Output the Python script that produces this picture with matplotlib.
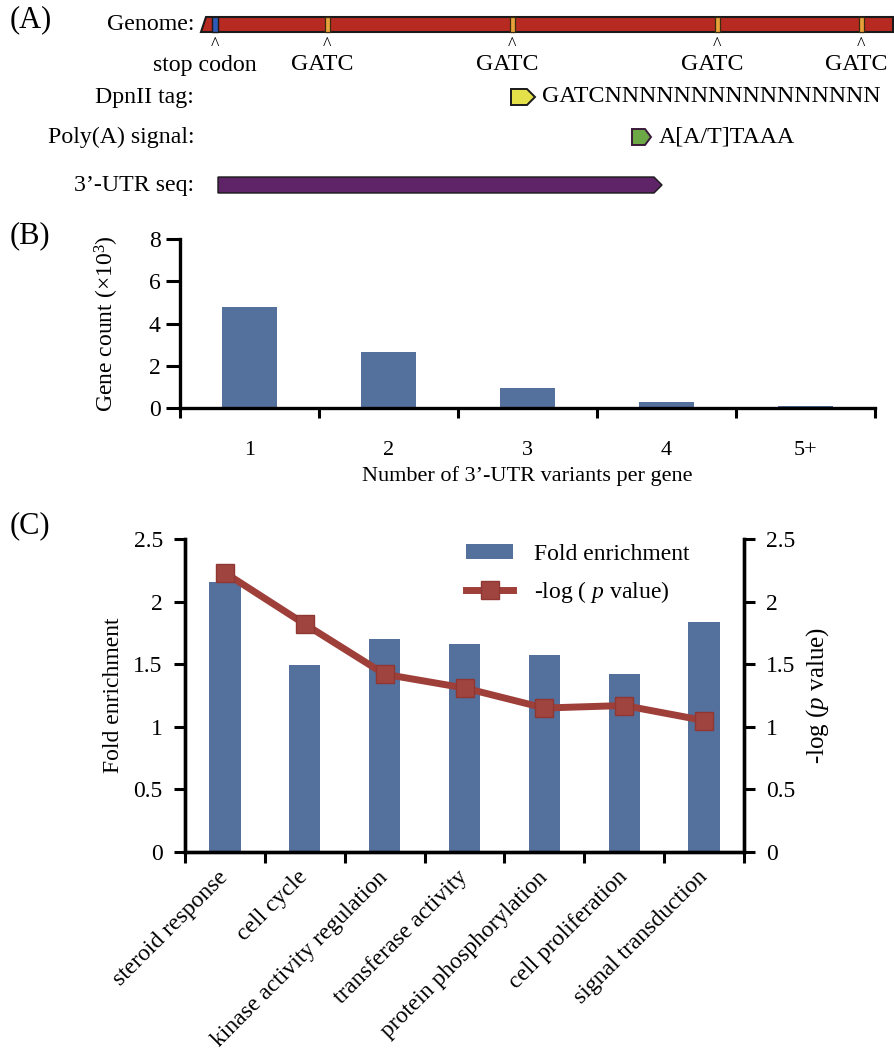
import matplotlib
matplotlib.use("Agg")
import matplotlib.pyplot as plt
from matplotlib.patches import Polygon, Patch
from matplotlib.lines import Line2D
from matplotlib.ticker import FixedLocator, FuncFormatter

plt.rcParams['font.family'] = ['Liberation Serif', 'DejaVu Serif']
plt.rcParams['mathtext.fontset'] = 'custom'
plt.rcParams['mathtext.rm'] = 'Liberation Serif'
plt.rcParams['mathtext.it'] = 'Liberation Serif:italic'

# ---------------- data ----------------
variants = ['1', '2', '3', '4', '5+']
gene_counts = [4.77, 2.65, 0.93, 0.27, 0.09]   # x10^3

go_terms = ['steroid response', 'cell cycle', 'kinase activity regulation',
            'transferase activity', 'protein phosphorylation',
            'cell proliferation', 'signal transduction']
fold_enrichment = [2.16, 1.49, 1.70, 1.66, 1.57, 1.42, 1.84]
neg_log_p = [2.23, 1.82, 1.42, 1.31, 1.15, 1.17, 1.05]

# schematic (panel A) features, in pixel positions along the genome line
gatc_sites = [327, 512, 717, 861]
stop_codon_site = 215
row_labels = ['Genome:', 'DpnII tag:', 'Poly(A) signal:', '3\u2019-UTR seq:']
row_y = [24, 97, 137, 185]

W, H = 894, 1056
fig = plt.figure(figsize=(W / 100, H / 100), dpi=100)

BAR_C = '#54709C'
LINE_C = '#9E3F3A'
FS_A = 17.2
FS_B = 16
FS_C = 17


def fr(x0, y0, x1, y1):
    return [x0 / W, 1 - y1 / H, (x1 - x0) / W, (y1 - y0) / H]


# ---------------- panel B ----------------
axb = fig.add_axes(fr(180, 239, 875, 408))
xb = list(range(len(variants)))
axb.bar(xb, gene_counts, width=0.4, color=BAR_C, zorder=2)
axb.set_xlim(-0.5, len(variants) - 0.5)
axb.set_ylim(0, 8)
axb.set_yticks([0, 2, 4, 6, 8])
axb.xaxis.set_major_locator(FixedLocator([i - 0.5 for i in range(len(variants) + 1)]))
axb.xaxis.set_major_formatter(FuncFormatter(lambda v, p: ''))
axb.xaxis.set_minor_locator(FixedLocator(xb))
axb.set_xticklabels(variants, minor=True)
axb.tick_params(axis='x', which='minor', length=0, pad=24, labelsize=FS_B)
axb.tick_params(axis='x', which='major', length=7, width=2.2, direction='out')
axb.tick_params(axis='y', length=10, width=2.2, direction='out', labelsize=FS_B + 1, pad=4)
for s in ['top', 'right']:
    axb.spines[s].set_visible(False)
for s in ['left', 'bottom']:
    axb.spines[s].set_linewidth(2.4)
axb.set_ylabel('Gene count (\u00d710$^3$)', fontsize=FS_B + 1, labelpad=20)
axb.set_xlabel('Number of 3\u2019-UTR variants per gene', fontsize=FS_B, labelpad=4)

# ---------------- panel C ----------------
axc = fig.add_axes(fr(185, 539, 744, 852))
xc = list(range(len(go_terms)))
axc.bar(xc, fold_enrichment, width=0.39, color=BAR_C, zorder=2)
axc.set_xlim(-0.5, len(go_terms) - 0.5)
axc.set_ylim(0, 2.5)
yt = [0, 0.5, 1, 1.5, 2, 2.5]
fmt = FuncFormatter(lambda v, p: ('%g' % v))
axc.set_yticks(yt)
axc.yaxis.set_major_formatter(fmt)
axc.xaxis.set_major_locator(FixedLocator([i - 0.5 for i in range(len(go_terms) + 1)]))
axc.xaxis.set_major_formatter(FuncFormatter(lambda v, p: ''))
axc.xaxis.set_minor_locator(FixedLocator(xc))
axc.set_xticklabels(go_terms, minor=True, rotation=45, ha='right', va='center',
                    rotation_mode='anchor')
axc.tick_params(axis='x', which='minor', length=0, pad=16, labelsize=FS_C)
axc.tick_params(axis='x', which='major', length=8, width=2.2, direction='out')
axc.tick_params(axis='y', length=8, width=2.2, direction='out', labelsize=FS_C, pad=8)
axc.spines['top'].set_visible(False)
for s in ['left', 'bottom', 'right']:
    axc.spines[s].set_linewidth(2.4)
axc.set_ylabel('Fold enrichment', fontsize=FS_C, labelpad=7)

axr = axc.twinx()
axr.set_ylim(0, 2.5)
axr.set_yticks(yt)
axr.yaxis.set_major_formatter(fmt)
axr.plot(xc, neg_log_p, color=LINE_C, lw=5, marker='s', ms=13,
         markerfacecolor='#A0443F', markeredgecolor='#8E3733', zorder=3)
axr.tick_params(axis='y', length=8, width=2.2, direction='out', labelsize=FS_C, pad=8)
axr.spines['top'].set_visible(False)
for s in ['left', 'bottom', 'right']:
    axr.spines[s].set_linewidth(2.4)
axr.set_ylabel('-log ($\\mathit{p}$ value)', fontsize=FS_C + 1, labelpad=6)

handles = [Patch(facecolor=BAR_C, edgecolor='none'),
           Line2D([0], [0], color=LINE_C, lw=5, marker='s', ms=13,
                  markerfacecolor='#A0443F', markeredgecolor='#8E3733')]
axr.legend(handles, ['Fold enrichment', '-log ( $\\mathit{p}$ value)'],
           loc='upper left', bbox_to_anchor=(466 / W, 1 - 544 / H),
           bbox_transform=fig.transFigure, frameon=False, fontsize=FS_C,
           handlelength=2.0, handleheight=0.6, handletextpad=0.9, labelspacing=0.6,
           borderaxespad=0, borderpad=0)

# ---------------- panel A (schematic) + panel letters ----------------
axa = fig.add_axes([0, 0, 1, 1])
axa.set_xlim(0, W)
axa.set_ylim(H, 0)
axa.axis('off')
axa.patch.set_alpha(0)

# genome bar
axa.add_patch(Polygon([(206, 17), (W - 1, 17), (W - 1, 32), (201, 32)], closed=True,
                      facecolor='#B72A22', edgecolor='#1a1a1a', lw=1.5))
axa.add_patch(Polygon([(212, 17), (218, 17), (218, 32), (212, 32)], closed=True,
                      facecolor='#2F5BB7', edgecolor='#1a1a1a', lw=1.0))
for g in gatc_sites:
    axa.add_patch(Polygon([(g - 2.5, 17), (g + 2.5, 17), (g + 2.5, 32), (g - 2.5, 32)],
                          closed=True, facecolor='#E8A23A', edgecolor='#3a2a10', lw=0.9))
    axa.text(g, 45, '^', ha='center', va='center', fontsize=13)
    axa.text(g - 5, 65, 'GATC', ha='center', va='center', fontsize=FS_A)
axa.text(stop_codon_site, 45, '^', ha='center', va='center', fontsize=13)
axa.text(stop_codon_site - 10, 65, 'stop codon', ha='center', va='center', fontsize=FS_A)

for lab, y in zip(row_labels, row_y):
    axa.text(194, y, lab, ha='right', va='center', fontsize=FS_A)

# DpnII tag
axa.add_patch(Polygon([(511, 89), (527, 89), (535, 97), (527, 105), (511, 105)],
                      closed=True, facecolor='#E3E04A', edgecolor='#1a1a1a', lw=1.4))
axa.text(542, 97, 'GATCNNNNNNNNNNNNNNNN', ha='left', va='center', fontsize=FS_A)
# Poly(A) signal
axa.add_patch(Polygon([(632, 129), (645, 129), (651, 137), (645, 145), (632, 145)],
                      closed=True, facecolor='#6CA845', edgecolor='#3a1a3a', lw=1.4))
axa.text(659, 137, 'A[A/T]TAAA', ha='left', va='center', fontsize=FS_A)
# 3'-UTR seq
axa.add_patch(Polygon([(218, 177), (654, 177), (662, 185), (654, 193), (218, 193)],
                      closed=True, facecolor='#5F2368', edgecolor='#1a1a1a', lw=1.0))

for lab, y in [('(A)', 20), ('(B)', 236), ('(C)', 526)]:
    axa.text(10, y, lab, ha='left', va='center', fontsize=22)

fig.savefig('out.png', dpi=100)
